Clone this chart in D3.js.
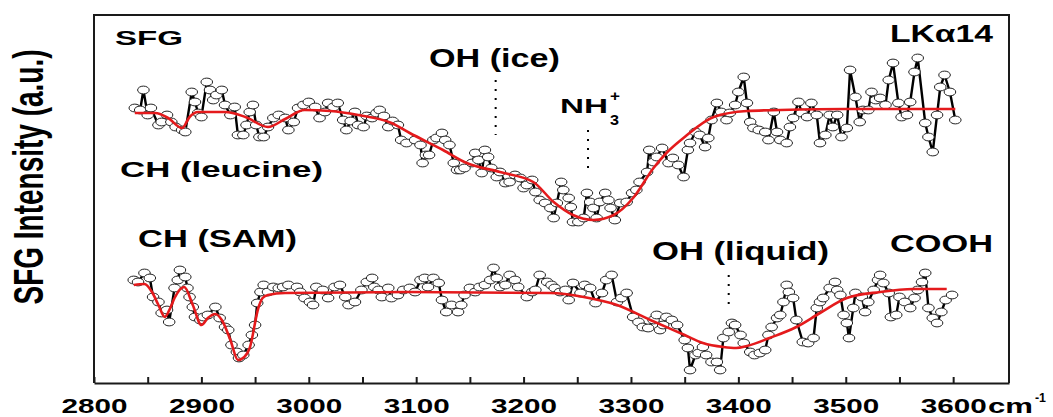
<!DOCTYPE html>
<html>
<head>
<meta charset="utf-8">
<script src="https://cdn.jsdelivr.net/npm/d3@7"></script>
<style>
  html, body { margin: 0; padding: 0; background: #fff; }
  svg { display: block; }
  text { font-family: "Liberation Sans", Arial, sans-serif; font-weight: bold; fill: #000; }
</style>
</head>
<body>
<svg id="chart" width="1053" height="417"></svg>
<script>
// SFG spectra of LKα14 — wavenumbers (cm-1) and intensities (a.u.)
const upperWn = [
  2838,2843,2846,2850,2853,2860,2863,2868,2872,2876,
  2882,2885,2891,2894,2897,2900,2905,2908,2911,2914,
  2919,2922,2927,2931,2934,2939,2942,2945,2948,2951,
  2954,2958,2962,2967,2972,2978,2981,2986,2990,2995,
  3000,3006,3010,3015,3018,3023,3027,3032,3035,3039,
  3043,3046,3051,3054,3059,3063,3066,3070,3074,3078,
  3083,3086,3091,3099,3104,3106,3109,3112,3116,3119,
  3124,3127,3131,3135,3138,3141,3145,3152,3155,3158,
  3161,3164,3167,3170,3175,3178,3183,3187,3192,3197,
  3200,3203,3208,3211,3215,3220,3225,3228,3231,3235,
  3237,3242,3244,3246,3251,3256,3259,3262,3265,3268,
  3271,3276,3279,3281,3285,3290,3296,3301,3305,3308,
  3315,3317,3321,3324,3329,3335,3339,3344,3349,3353,
  3355,3360,3364,3369,3372,3375,3380,3384,3389,3392,
  3397,3400,3405,3408,3411,3414,3419,3425,3428,3433,
  3436,3439,3445,3448,3451,3456,3459,3464,3468,3473,
  3476,3481,3485,3488,3492,3496,3501,3504,3509,3513,
  3516,3521,3524,3528,3532,3537,3540,3544,3549,3552,
  3557,3560,3564,3567,3574,3577,3581,3585,3588,3592,
  3597,3602
];
const upperSignal = [
  27.5,27.3,29.3,26.8,27.5,25.8,26.1,26.8,26.1,25.6,
  25.3,25.1,29.1,28.1,27.0,26.6,30.1,29.3,28.3,28.8,
  29.3,27.8,26.8,27.6,24.8,24.8,25.8,27.1,27.8,25.8,
  24.6,24.6,25.6,26.5,26.8,26.5,25.3,26.1,27.5,27.8,
  28.1,27.6,26.5,27.1,28.0,27.6,28.0,26.3,25.3,26.2,
  27.1,25.8,25.6,26.7,26.5,27.0,27.3,26.7,25.6,26.2,
  25.8,24.3,24.0,24.3,23.8,22.0,22.8,22.8,24.3,24.5,
  25.0,24.3,23.8,22.0,21.3,21.3,21.5,22.0,23.0,22.3,
  21.0,23.3,22.6,21.5,20.6,21.1,20.0,20.1,20.8,20.5,
  19.5,19.8,20.3,19.1,18.3,18.0,17.5,16.5,18.0,20.1,
  19.3,18.5,17.6,16.1,16.1,16.5,19.0,18.1,17.5,16.5,
  18.1,19.0,18.3,17.5,16.3,18.0,18.1,19.0,19.3,20.1,
  21.1,23.3,22.1,22.6,23.5,22.0,22.5,21.8,20.6,23.3,
  24.0,25.1,24.8,23.6,24.5,26.3,28.0,27.1,26.3,27.0,
  27.8,29.1,30.6,28.0,26.1,25.5,25.3,25.1,24.3,27.1,
  25.1,24.3,24.0,25.6,26.5,28.1,27.0,26.6,28.0,26.8,
  24.0,24.8,26.8,25.6,26.8,24.6,25.5,31.3,28.6,26.1,
  27.3,27.3,29.1,28.3,28.5,27.8,30.3,32.0,28.0,26.6,
  26.8,28.1,31.1,32.5,26.0,24.6,23.1,26.8,29.6,30.8,
  29.1,26.3
];
const upperFitWn = [2838,2857,2869,2882,2889,2897,2922,2941,2962,2978,2996,3020,3046,3077,3094,3125,
  3147,3178,3209,3228,3246,3265,3284,3302,3321,3333,3350,3377,3408,3439,3500,3602];
const upperFit = [27.0,27.0,26.5,25.5,26.6,27.1,27.1,26.6,25.6,26.4,27.3,27.2,26.8,26.0,25.0,23.3,
  22.0,21.1,20.1,18.1,16.8,16.3,16.8,18.5,21.5,23.0,24.6,26.6,27.2,27.3,27.4,27.4];

const lowerWn = [
  2837,2841,2847,2852,2855,2860,2863,2868,2870,2875,
  2878,2880,2885,2887,2889,2892,2894,2899,2902,2906,
  2913,2917,2922,2925,2928,2933,2935,2939,2944,2947,
  2950,2952,2955,2958,2962,2967,2972,2976,2981,2989,
  2992,2996,3001,3004,3007,3013,3018,3024,3029,3034,
  3037,3043,3049,3054,3059,3061,3065,3068,3074,3077,
  3083,3088,3094,3099,3104,3108,3111,3116,3121,3124,
  3128,3133,3139,3142,3145,3150,3155,3159,3164,3169,
  3172,3175,3178,3183,3187,3192,3195,3203,3208,3211,
  3215,3222,3226,3229,3234,3239,3242,3246,3253,3257,
  3262,3267,3273,3277,3282,3287,3291,3296,3302,3307,
  3311,3316,3321,3324,3327,3330,3333,3338,3343,3350,
  3353,3355,3360,3363,3367,3370,3375,3380,3383,3386,
  3391,3394,3397,3402,3405,3411,3415,3420,3425,3428,
  3431,3436,3439,3442,3445,3447,3451,3454,3460,3465,
  3470,3473,3476,3479,3485,3490,3492,3495,3498,3501,
  3503,3507,3509,3515,3518,3521,3526,3530,3532,3535,
  3540,3542,3547,3550,3555,3560,3564,3567,3571,3574,
  3577,3581,3585,3589,3593,3599
];
const lowerSignal = [
  10.3,10.1,11.0,10.5,8.6,8.1,7.0,7.3,6.1,9.5,
  10.3,11.3,10.6,9.5,8.6,7.6,6.6,6.3,6.6,6.8,
  7.6,6.5,5.6,5.3,3.8,3.1,2.5,2.8,3.8,4.8,
  5.8,8.0,9.1,9.8,9.1,9.6,9.5,9.6,9.8,9.6,
  9.1,8.5,8.1,7.8,9.6,9.3,8.5,9.6,9.8,8.6,
  7.8,8.1,9.3,10.1,10.5,9.6,9.3,8.6,9.5,8.5,
  8.8,9.3,9.5,9.1,10.3,10.5,9.6,10.5,10.0,8.3,
  7.1,7.8,7.1,7.8,8.8,9.5,9.1,9.6,9.8,10.3,
  11.5,10.5,9.6,9.8,10.8,10.3,9.6,8.6,9.1,9.3,
  10.8,10.1,9.8,9.5,9.1,9.3,8.3,10.0,9.0,9.8,
  9.5,8.0,9.0,10.3,10.8,8.1,8.5,9.0,6.6,6.1,
  5.6,5.5,6.3,6.8,5.3,5.8,6.6,6.3,5.8,4.3,
  3.5,1.3,2.8,3.0,3.6,2.8,2.1,2.1,1.3,4.5,
  5.1,6.0,5.8,4.8,4.0,3.1,2.8,3.0,3.3,4.8,
  5.6,6.5,6.8,8.1,9.8,9.1,8.5,6.3,4.1,4.0,
  4.5,7.5,8.1,8.5,9.5,10.1,9.3,8.8,6.8,6.0,
  4.5,7.5,9.0,8.6,7.1,8.1,9.3,10.3,10.8,10.0,
  9.0,6.6,6.8,8.6,8.1,7.5,8.5,9.3,10.1,11.0,
  7.5,6.5,6.0,7.1,8.3,8.8
];
const lowerFitWn = [2837,2847,2854,2860,2866,2871,2875,2884,2892,2900,2906,2913,2919,2927,2934,2940,
  2945,2953,2957,2962,2978,3093,3225,3256,3287,3318,3350,3367,3386,3398,3408,3429,3454,3476,3501,
  3532,3563,3594];
const lowerFit = [9.8,9.9,9.1,7.8,6.6,7.5,8.5,9.6,7.8,5.8,6.5,6.9,6.3,4.3,2.3,2.6,
  3.5,7.5,8.5,8.8,9.0,9.1,9.0,8.6,7.8,6.3,4.8,4.0,3.6,3.5,3.7,4.5,5.6,7.0,8.5,
  9.1,9.4,9.4];

// Band assignments marked with dotted drop lines: [wavenumber, top, bottom] in a.u.
const markerWn = [3174, 3260, 3391];
const markerTop = [30.3, 25.3, 10.8];
const markerBottom = [24.8, 20.9, 7.3];

const tickLabels = [2800, 2900, 3000, 3100, 3200, 3300, 3400, 3500, 3600];

const svg = d3.select("#chart");
const x = d3.scaleLinear().domain([2800, 3652]).range([94, 1009]);
const y = d3.scaleLinear().domain([0, 36.8]).range([383, 15]);

const red = "#e41a1c";

// frame
svg.append("path")
  .attr("d", `M${x(2800)},${y(0)}V${y(36.8)}H${x(3652)}V${y(0)}`)
  .attr("fill", "none").attr("stroke", "#1a1a1a").attr("stroke-width", 2);

// x axis with inward ticks every 50 cm-1
const tickValues = d3.range(2800, 3601, 50);
const xAxis = d3.axisBottom(x)
  .tickValues(tickValues)
  .tickSize(-6)
  .tickSizeOuter(0)
  .tickFormat(d => tickLabels.includes(d) ? String(d) : "");
const gx = svg.append("g").attr("transform", `translate(0,${y(0)})`).call(xAxis);
gx.select(".domain").attr("stroke", "#1a1a1a").attr("stroke-width", 2);
gx.selectAll(".tick line").attr("stroke", "#1a1a1a").attr("stroke-width", 2);
gx.selectAll(".tick text")
  .attr("y", 29.5).attr("dy", null)
  .attr("font-size", 20)
  .attr("font-family", "'Liberation Sans', Arial, sans-serif")
  .attr("font-weight", "bold")
  .attr("fill", "#000")
  .each(function(d) { if (tickLabels.includes(d)) d3.select(this).attr("textLength", 66).attr("lengthAdjust", "spacingAndGlyphs"); });

// unit label
svg.append("text").attr("x", 988).attr("y", 412.5).attr("font-size", 20)
  .attr("textLength", 45).attr("lengthAdjust", "spacingAndGlyphs").text("cm");
svg.append("text").attr("x", 1035).attr("y", 402).attr("font-size", 13)
  .attr("textLength", 11).attr("lengthAdjust", "spacingAndGlyphs").text("-1");

// y axis title
svg.append("text")
  .attr("transform", "translate(43,177) scale(1.5,1) rotate(-90)")
  .attr("text-anchor", "middle")
  .attr("font-size", 28)
  .attr("textLength", 255).attr("lengthAdjust", "spacingAndGlyphs")
  .text("SFG Intensity (a.u.)");

// dotted drop lines
markerWn.forEach((w, i) => {
  svg.append("line")
    .attr("x1", x(w)).attr("x2", x(w))
    .attr("y1", y(markerTop[i])).attr("y2", y(markerBottom[i]))
    .attr("stroke", "#000").attr("stroke-width", 2)
    .attr("stroke-dasharray", "2,7");
});

// spectra: connecting lines, open symbols, fitted curves
function drawSpectrum(wn, sig, fitWn, fit) {
  const pts = wn.map((w, i) => [w, sig[i]]);
  svg.append("path")
    .datum(pts)
    .attr("d", d3.line().x(d => x(d[0])).y(d => y(d[1])))
    .attr("fill", "none").attr("stroke", "#000").attr("stroke-width", 2.4)
    .attr("stroke-linejoin", "round");
  svg.append("g").selectAll("ellipse").data(pts).join("ellipse")
    .attr("cx", d => x(d[0])).attr("cy", d => y(d[1]))
    .attr("rx", 5.8).attr("ry", 3.9)
    .attr("fill", "#fff").attr("stroke", "#222").attr("stroke-width", 1);
  const fpts = fitWn.map((w, i) => [w, fit[i]]);
  svg.append("path")
    .datum(fpts)
    .attr("d", d3.line().x(d => x(d[0])).y(d => y(d[1])).curve(d3.curveMonotoneX))
    .attr("fill", "none").attr("stroke", red).attr("stroke-width", 2.6);
}
drawSpectrum(upperWn, upperSignal, upperFitWn, upperFit);
drawSpectrum(lowerWn, lowerSignal, lowerFitWn, lowerFit);

// annotations
function label(txt, px, base, size, width) {
  return svg.append("text")
    .attr("x", px).attr("y", base)
    .attr("font-size", size)
    .attr("textLength", width).attr("lengthAdjust", "spacingAndGlyphs")
    .text(txt);
}
label("SFG", 115, 45, 21, 68);
label("LKα14", 890, 42, 24, 103);
label("OH (ice)", 429, 66.5, 25, 131);
label("NH", 560, 113, 21, 48);
label("3", 610, 125, 14, 9);
label("+", 610, 101, 15, 10);
label("CH (leucine)", 120, 177, 22.5, 203);
label("CH (SAM)", 138, 246.5, 23, 159);
label("OH (liquid)", 652, 260, 25, 177);
label("COOH", 890, 251.5, 23, 103);
</script>
</body>
</html>
